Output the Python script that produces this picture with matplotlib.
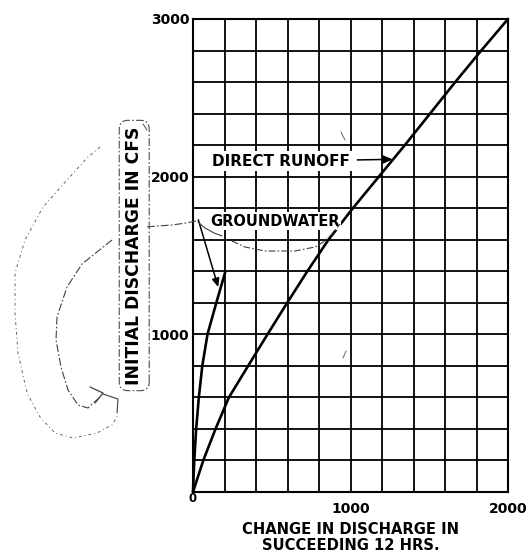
import matplotlib
matplotlib.use("Agg")
import matplotlib.pyplot as plt
from matplotlib.lines import Line2D
from matplotlib.ticker import MultipleLocator, FixedLocator, NullFormatter

# Initial discharge (cfs) against the change in discharge over the next 12 hours
runoff_discharge = [0, 200, 400, 600, 800, 1000, 1200, 1400, 1600, 1800,
                    2000, 2200, 2400, 2600, 2800, 3000]
runoff_change = [0, 65, 143, 228, 350, 473, 598, 726, 860, 1015,
                 1180, 1345, 1505, 1665, 1830, 2000]

groundwater_discharge = [0, 200, 400, 600, 800, 1000, 1200, 1400]
groundwater_change = [0, 8, 20, 37, 59, 92, 148, 206]

x_tick_values = [1000, 2000]
y_tick_values = [1000, 2000, 3000]

W, H = 528, 554
FONT = "DejaVu Sans"

fig = plt.figure(figsize=(W / 100, H / 100), dpi=100)
ax = fig.add_axes([193 / W, 62 / H, 315 / W, 473 / H])

ax.set_xlim(0, 2000)
ax.set_ylim(0, 3000)

# 200-unit squared grid paper
ax.xaxis.set_minor_locator(MultipleLocator(200))
ax.yaxis.set_minor_locator(MultipleLocator(200))
ax.xaxis.set_major_locator(FixedLocator(x_tick_values))
ax.yaxis.set_major_locator(FixedLocator(y_tick_values))
ax.xaxis.set_minor_formatter(NullFormatter())
ax.yaxis.set_minor_formatter(NullFormatter())
ax.grid(True, which="both", color="black", lw=1.3)
ax.set_axisbelow(True)
ax.tick_params(which="both", length=0)
ax.tick_params(axis="y", pad=2.5)
ax.tick_params(axis="x", pad=7)
for lab in ax.get_xticklabels() + ax.get_yticklabels():
    lab.set_fontfamily(FONT)
    lab.set_fontweight("bold")
    lab.set_fontsize(10)
for sp in ax.spines.values():
    sp.set_linewidth(1.5)

# shared origin label
ax.text(0, 0, "0", ha="center", va="top", fontsize=8.5, fontweight="bold",
        family=FONT, transform=ax.transData, clip_on=False)

# curves
ax.plot(runoff_change, runoff_discharge, color="black", lw=1.9,
        solid_capstyle="round", solid_joinstyle="round", clip_on=False, zorder=3)
ax.plot(groundwater_change, groundwater_discharge, color="black", lw=1.9,
        solid_capstyle="round", solid_joinstyle="round", clip_on=False, zorder=3)

# curve labels
ax.annotate("DIRECT RUNOFF", xy=(1268, 2110), xytext=(118, 2098),
            ha="left", va="center", fontsize=11, fontweight="bold", family=FONT,
            bbox=dict(boxstyle="square,pad=0.15", fc="white", ec="none"),
            arrowprops=dict(arrowstyle="-|>,head_length=0.5,head_width=0.22",
                            color="black", lw=1.1, shrinkA=4, shrinkB=0),
            zorder=4)
ax.text(108, 1716, "GROUNDWATER", ha="left", va="center", fontsize=10.5,
        fontweight="bold", family=FONT, zorder=4,
        bbox=dict(boxstyle="square,pad=0.1", fc="white", ec="none"))
ax.annotate("", xy=(160, 1300), xytext=(34, 1726),
            arrowprops=dict(arrowstyle="-|>,head_length=0.5,head_width=0.22",
                            color="black", lw=1.1, shrinkA=0, shrinkB=0),
            zorder=4)

ax.set_xlabel("CHANGE IN DISCHARGE IN\nSUCCEEDING 12 HRS.", fontsize=10.6,
              fontweight="bold", family=FONT, linespacing=1.1)
ax.xaxis.set_label_coords(0.5, -0.064)
ax.set_ylabel("INITIAL DISCHARGE IN CFS", fontsize=12.3, fontweight="bold",
              family=FONT,
              bbox=dict(boxstyle="round,pad=0.35,rounding_size=0.5", fc="none",
                        ec="0.3", lw=0.8, ls=(0, (7, 2, 1.5, 2))))
ax.yaxis.set_label_coords(-0.158, 0.5)


# pencil notes written around the label, in figure pixels
def pencil(points, ls=(0, (7, 2, 1.5, 2)), lw=0.8, color="0.25"):
    xs = [p[0] / W for p in points]
    ys = [1 - p[1] / H for p in points]
    fig.add_artist(Line2D(xs, ys, transform=fig.transFigure, lw=lw,
                          color=color, ls=ls, solid_capstyle="round"))


# loop from the groundwater note to the axis label
pencil([(196, 221), (186, 223), (172, 225), (157, 226), (147, 227)])
pencil([(112, 240), (97, 252), (82, 264), (67, 287), (57, 317), (56, 340),
        (61, 367), (68, 390), (78, 405), (88, 408), (100, 397)])
pencil([(90, 387), (103, 393), (95, 403)], ls="-", lw=0.9)
pencil([(103, 394), (118, 399), (117, 413)], ls="-", lw=0.8)
# outer sweep
pencil([(100, 147), (87, 158), (67, 180), (43, 207), (25, 240), (15, 273),
        (15, 313), (18, 353), (27, 393), (40, 417), (55, 433), (73, 438),
        (97, 433), (112, 425), (118, 415)], ls=(0, (3, 3, 1, 3)), lw=0.7,
       color="0.4")
# bracket round the groundwater label
pencil([(198, 222), (205, 228), (214, 233), (222, 236)], ls="-", lw=0.8)
pencil([(232, 241), (245, 247), (265, 251), (295, 251), (315, 247),
        (325, 241), (333, 233), (340, 224)], ls=(0, (6, 2, 1.5, 2)))
# stray marks
pencil([(341, 132), (345, 140)], ls="-", lw=0.7, color="0.4")
pencil([(346, 351), (343, 358)], ls="-", lw=0.7, color="0.4")
pencil([(143, 124), (147, 130)], ls="-", lw=0.7, color="0.3")

fig.savefig("out.png", dpi=100)
